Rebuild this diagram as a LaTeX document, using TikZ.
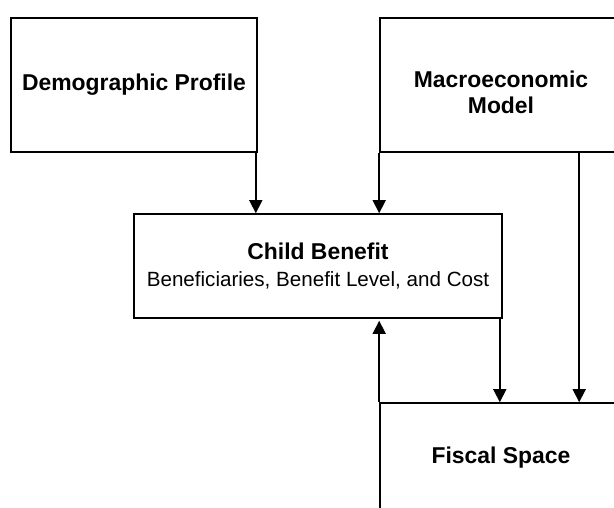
\documentclass[tikz,border=0pt]{standalone}
\usepackage{fontspec}
\setmainfont{Liberation Sans}
\usetikzlibrary{arrows.meta}
\tikzset{
  box/.style={draw, line width=1.6pt, rectangle, inner sep=0pt, align=center},
  arr/.style={line width=1.6pt, -{Triangle[width=13pt,length=13pt]}},
  bigbold/.style={font=\fontsize{22.9}{26}\selectfont\bfseries}
}
\begin{document}
\begin{tikzpicture}[x=1pt,y=1pt]
\useasboundingbox (0,0) rectangle (614,508);
\clip (0,0) rectangle (614,508);
\node[box, bigbold, minimum width=246pt, minimum height=134pt] (demo) at (134,423) {Demographic Profile};
\node[box, minimum width=242pt, minimum height=134pt] (macro) at (501,423) {};
\node[bigbold, align=center] (macrotext) at (501,416) {Macroeconomic\\Model};
\node[box, font=\fontsize{20.6}{26.5}\selectfont, minimum width=368pt, minimum height=104pt] (child) at (318,242)
  {{\fontsize{22.9}{26.5}\selectfont\bfseries Child Benefit}\\Beneficiaries, Benefit Level, and Cost};
\node[box, bigbold, minimum width=242pt, minimum height=110pt] (fiscal) at (501,50) {Fiscal Space};
\draw[arr] ([xshift=-2pt]demo.south east) -- ([xshift=-2pt]demo.south east |- child.north);
\draw[arr] (macro.south west) -- (macro.south west |- child.north);
\draw[arr] ([xshift=200pt]macro.south west) -- ([xshift=200pt]macro.south west |- fiscal.north);
\draw[arr] ([xshift=-3pt]child.south east) -- ([xshift=-3pt]child.south east |- fiscal.north);
\draw[arr, shorten >=2pt] (fiscal.north west) -- (fiscal.north west |- child.south);
\end{tikzpicture}
\end{document}
